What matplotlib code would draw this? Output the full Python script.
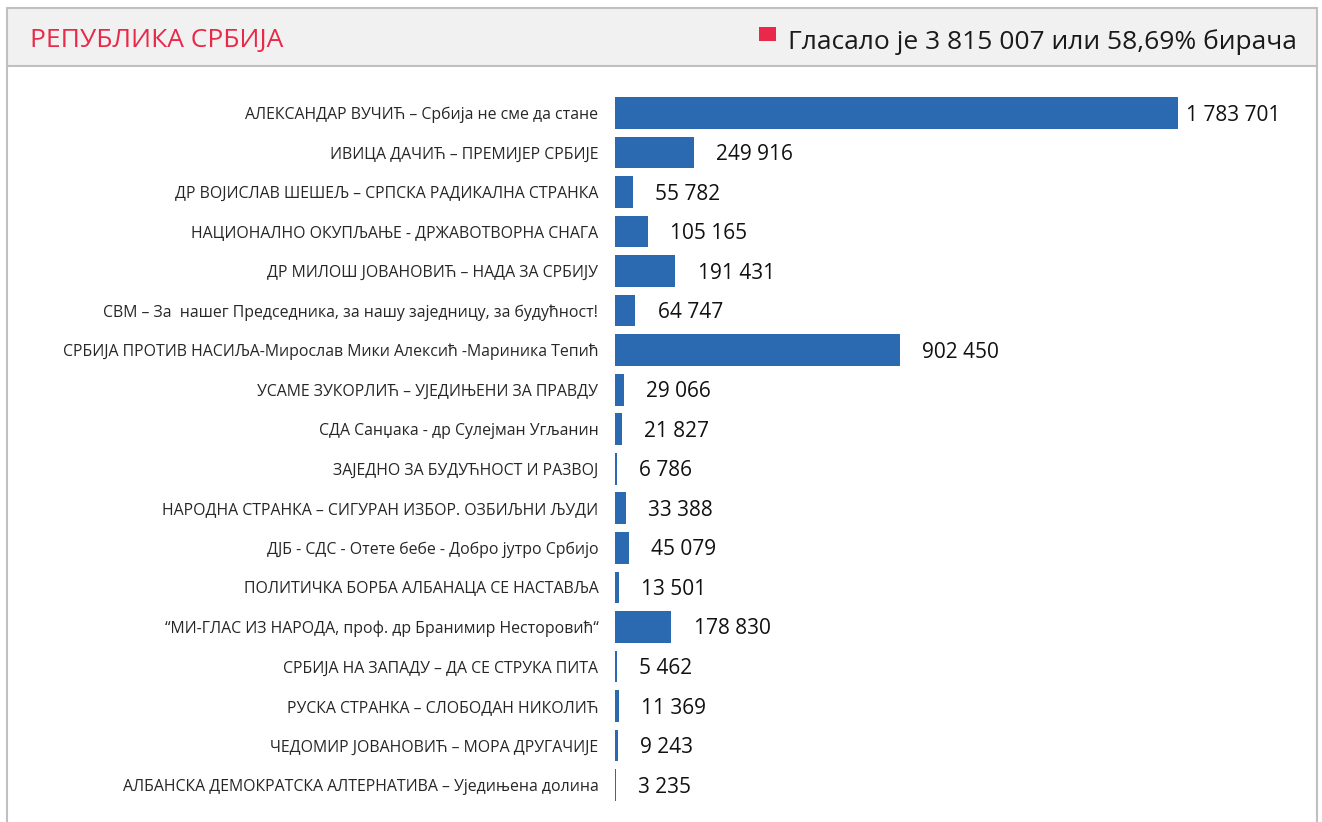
import matplotlib
matplotlib.use("Agg")
import matplotlib.pyplot as plt
from matplotlib.patches import Rectangle

plt.rcParams['font.family'] = ['Open Sans', 'DejaVu Sans']

W, H = 1322, 822

parties = [
    "АЛЕКСАНДАР ВУЧИЋ – Србија не сме да стане",
    "ИВИЦА ДАЧИЋ – ПРЕМИЈЕР СРБИЈЕ",
    "ДР ВОЈИСЛАВ ШЕШЕЉ – СРПСКА РАДИКАЛНА СТРАНКА",
    "НАЦИОНАЛНО ОКУПЉАЊЕ - ДРЖАВОТВОРНА СНАГА",
    "ДР МИЛОШ ЈОВАНОВИЋ – НАДА ЗА СРБИЈУ",
    "СВМ – За  нашег Председника, за нашу заједницу, за будућност!",
    "СРБИЈА ПРОТИВ НАСИЉА-Мирослав Мики Алексић -Мариника Тепић",
    "УСАМЕ ЗУКОРЛИЋ – УЈЕДИЊЕНИ ЗА ПРАВДУ",
    "СДА Санџака - др Сулејман Угљанин",
    "ЗАЈЕДНО ЗА БУДУЋНОСТ И РАЗВОЈ",
    "НАРОДНА СТРАНКА – СИГУРАН ИЗБОР. ОЗБИЉНИ ЉУДИ",
    "ДЈБ - СДС - Отете бебе - Добро јутро Србијо",
    "ПОЛИТИЧКА БОРБА АЛБАНАЦА СЕ НАСТАВЉА",
    "“МИ-ГЛАС ИЗ НАРОДА, проф. др Бранимир Несторовић“",
    "СРБИЈА НА ЗАПАДУ – ДА СЕ СТРУКА ПИТА",
    "РУСКА СТРАНКА – СЛОБОДАН НИКОЛИЋ",
    "ЧЕДОМИР ЈОВАНОВИЋ – МОРА ДРУГАЧИЈЕ",
    "АЛБАНСКА ДЕМОКРАТСКА АЛТЕРНАТИВА – Уједињена долина",
]
votes = [1783701, 249916, 55782, 105165, 191431, 64747, 902450, 29066, 21827,
         6786, 33388, 45079, 13501, 178830, 5462, 11369, 9243, 3235]

title = "РЕПУБЛИКА СРБИЈА"
turnout = "Гласало је 3 815 007 или 58,69% бирача"

bar_color = "#2b69b0"
red = "#e8294a"


def fmt(v):
    return f"{v:,}".replace(",", " ")


fig = plt.figure(figsize=(W / 100, H / 100), dpi=100)

# frame and header band
fig.patches.append(Rectangle((7 / W, 1 - 66 / H), 1310 / W, 58 / H, transform=fig.transFigure,
                             facecolor="#f1f1f1", edgecolor="#c0c0c0", lw=1.5, zorder=0))
fig.add_artist(plt.Line2D([7 / W, 7 / W], [0, 1 - 66 / H], color="#c0c0c0", lw=1.5))
fig.add_artist(plt.Line2D([1317 / W, 1317 / W], [0, 1 - 66 / H], color="#c0c0c0", lw=1.5))

fig.text(30 / W, 1 - 41 / H, title, color=red, fontsize=19, va="center", ha="left")
fig.patches.append(Rectangle((759 / W, 1 - 41 / H), 17 / W, 14 / H, transform=fig.transFigure,
                             facecolor=red, edgecolor="none"))
fig.text(1297 / W, 1 - 42 / H, turnout, color="#1a1a1a", fontsize=19, va="center", ha="right")

left, right = 615, 1178
top, bottom = 93.25, 804.75
ax = fig.add_axes([left / W, 1 - bottom / H, (right - left) / W, (bottom - top) / H])
ax.patch.set_alpha(0)

y = list(range(len(parties)))
ax.barh(y, votes, height=0.8, color=bar_color)
ax.set_xlim(0, max(votes))
ax.set_ylim(len(parties) - 0.5, -0.5)
ax.set_yticks(y)
ax.set_yticklabels(parties, fontsize=11.4, color="#262626")
ax.tick_params(axis="y", length=0, pad=12)
ax.set_xticks([])
for s in ax.spines.values():
    s.set_visible(False)

for i, v in enumerate(votes):
    off = 6 if v == max(votes) else 16
    ax.annotate(fmt(v), (v, i), xytext=(off, -1.5), textcoords="offset points",
                va="center", ha="left", fontsize=15, color="#111111",
                annotation_clip=False)

fig.savefig("out.png", dpi=100)
